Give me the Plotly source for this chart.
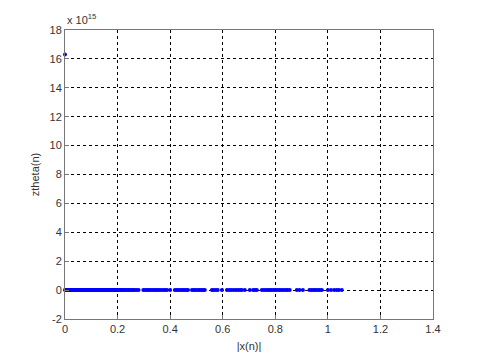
import plotly.graph_objects as go

# |x(n)| values at which ztheta(n) == 0
x_zero = [
    0.000, 0.002, 0.004, 0.006, 0.009, 0.011, 0.013, 0.016, 0.018, 0.021,
    0.023, 0.026, 0.028, 0.031, 0.034, 0.036, 0.039, 0.041, 0.044, 0.047,
    0.049, 0.052, 0.055, 0.057, 0.060, 0.063, 0.066, 0.068, 0.071, 0.074,
    0.077, 0.079, 0.082, 0.085, 0.088, 0.091, 0.093, 0.096, 0.099, 0.102,
    0.105, 0.108, 0.110, 0.113, 0.116, 0.119, 0.122, 0.125, 0.128, 0.131,
    0.134, 0.137, 0.140, 0.143, 0.146, 0.149, 0.152, 0.155, 0.158, 0.161,
    0.164, 0.167, 0.170, 0.173, 0.176, 0.179, 0.182, 0.185, 0.188, 0.191,
    0.194, 0.197, 0.200, 0.204, 0.208, 0.213, 0.219, 0.224, 0.229, 0.236,
    0.241, 0.247, 0.253, 0.259, 0.264, 0.272, 0.280, 0.298, 0.305, 0.312,
    0.318, 0.324, 0.331, 0.338, 0.345, 0.352, 0.358, 0.366, 0.374, 0.381,
    0.388, 0.400, 0.418, 0.425, 0.432, 0.440, 0.447, 0.454, 0.461, 0.468,
    0.483, 0.490, 0.497, 0.505, 0.512, 0.519, 0.526, 0.532, 0.559, 0.566,
    0.574, 0.581, 0.597, 0.616, 0.624, 0.632, 0.641, 0.650, 0.658, 0.666,
    0.673, 0.684, 0.703, 0.716, 0.723, 0.730, 0.749, 0.757, 0.765, 0.772,
    0.779, 0.786, 0.794, 0.801, 0.809, 0.816, 0.824, 0.832, 0.840, 0.847,
    0.855, 0.882, 0.892, 0.905, 0.930, 0.938, 0.946, 0.953, 0.961, 0.969,
    0.977, 1.000, 1.012, 1.024, 1.034, 1.042, 1.053,
]
y_zero = [0.0] * len(x_zero)

# the single large value
x_peak = [0.0]
y_peak = [16.3e15]

exponent = 15
scale = 10 ** exponent

x_ticks = [0, 0.2, 0.4, 0.6, 0.8, 1.0, 1.2, 1.4]
x_tick_labels = ["0", "0.2", "0.4", "0.6", "0.8", "1", "1.2", "1.4"]
y_ticks = [-2, 0, 2, 4, 6, 8, 10, 12, 14, 16, 18]
y_tick_labels = [str(v) for v in y_ticks]

xs = x_zero + x_peak
ys = [v / scale for v in (y_zero + y_peak)]

fig = go.Figure()
fig.add_trace(go.Scatter(
    x=xs, y=ys, mode="markers",
    marker=dict(color="#0000ff", size=4, line=dict(width=0)),
    showlegend=False, cliponaxis=False,
))

font = dict(family="Liberation Sans, Arial, sans-serif", size=11, color="#333333")

axis_common = dict(
    showgrid=True, gridcolor="#000000", griddash="dot", gridwidth=1,
    showline=True, linecolor="#777777", linewidth=1, mirror=True,
    ticks="inside", ticklen=4, tickcolor="#777777",
    zeroline=False, tickfont=font,
)

fig.update_layout(
    width=473, height=355,
    margin=dict(l=57, r=48, t=22, b=40),
    paper_bgcolor="white", plot_bgcolor="white",
    font=font,
    xaxis=dict(range=[0, 1.4], tickvals=x_ticks, ticktext=x_tick_labels,
               title=dict(text="|x(n)|", font=font, standoff=8), **axis_common),
    yaxis=dict(range=[-2, 18], tickvals=y_ticks, ticktext=y_tick_labels,
               title=dict(text="ztheta(n)", font=font, standoff=7), **axis_common),
    annotations=[dict(
        text="x 10<sup>%d</sup>" % exponent, xref="paper", yref="paper",
        x=0, y=1, xanchor="left", yanchor="bottom", showarrow=False,
        font=font, yshift=2,
    )],
)

fig.write_html("out.html")
